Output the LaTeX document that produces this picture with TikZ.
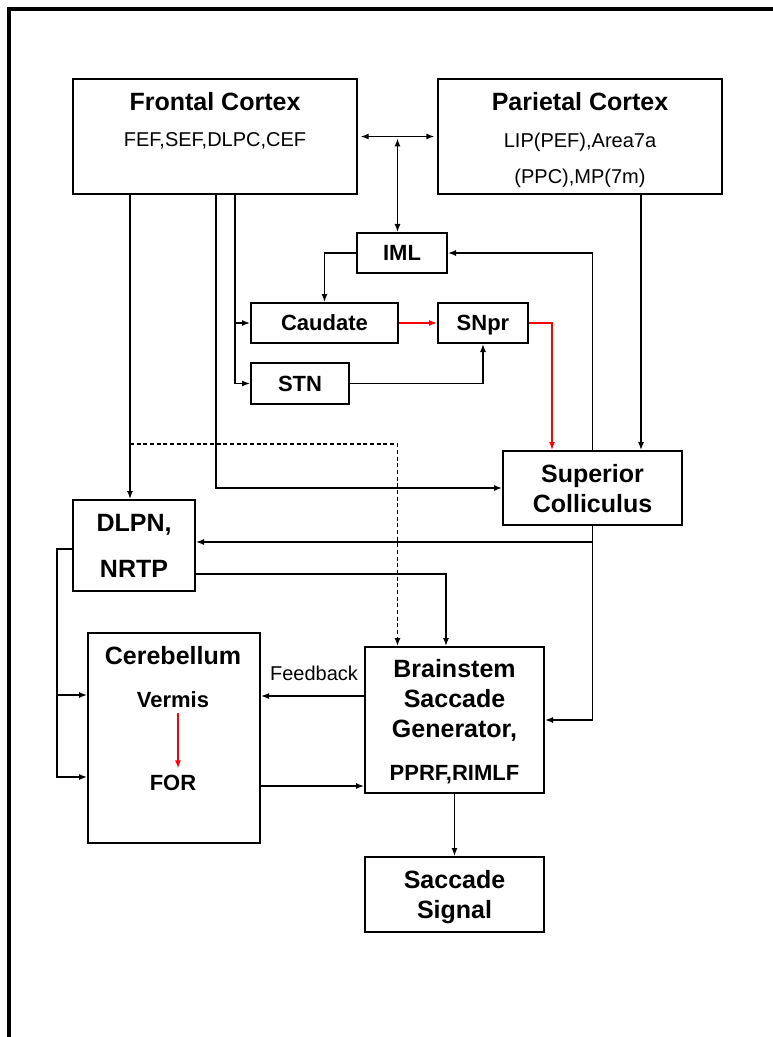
\documentclass[tikz,border=0pt]{standalone}
\usepackage{fontspec}
\setmainfont{Liberation Sans}
\usetikzlibrary{calc,arrows.meta}

\newcommand{\bigname}{\fontsize{18.75}{22.5}\selectfont\bfseries}
\newcommand{\smallname}{\fontsize{16.5}{20}\selectfont\bfseries}
\newcommand{\areatext}{\fontsize{15}{18}\selectfont}

\begin{document}
\begin{tikzpicture}[%
    x=0.75pt, y=-0.75pt,
    >={Latex[length=6pt,width=4.5pt]},
    box/.style={draw, line width=1.5pt, inner sep=0pt, align=center,
                text depth=0pt, font=\bigname},
    minor/.style={font=\smallname},
    txt/.style={inner sep=0pt, anchor=base},
    hv/.style={to path={-| (\tikztotarget)}},
    vh/.style={to path={|- (\tikztotarget)}},
    link/.style={line width=1pt}
  ]
    \useasboundingbox (0,0) rectangle (772,1037);
    \draw[line width=2.6pt] (9,1045) |- (780,9);

    % cortex
    \node[box, minimum width=213pt, minimum height=86.25pt] (frontal) at (215,136.5) {};
    \node[txt, font=\bigname]  (frontal-t) at (215,111) {Frontal Cortex};
    \node[txt, font=\areatext] (frontal-a) at (215,147) {FEF,SEF,DLPC,CEF};
    \node[box, minimum width=213pt, minimum height=86.25pt] (parietal) at (580,136.5) {};
    \node[txt, font=\bigname]  (parietal-t) at (580,111) {Parietal Cortex};
    \node[txt, font=\areatext] (parietal-a) at (580,148) {LIP(PEF),Area7a};
    \node[txt, font=\areatext] (parietal-b) at (580,184) {(PPC),MP(7m)};

    % basal ganglia
    \node[box, minor, minimum width=67.5pt,  minimum height=30pt]    (iml)     at (402,253)   {IML};
    \node[box, minor, minimum width=110.25pt, minimum height=30pt]   (caudate) at (324.5,323) {Caudate};
    \node[box, minor, minimum width=67.5pt,  minimum height=30pt]    (snpr)    at (483,323)   {SNpr};
    \node[box, minor, minimum width=73.5pt,  minimum height=30.75pt] (stn)     at (300,383.5) {STN};

    \node[box, minimum width=134.25pt, minimum height=55.5pt]  (sc)   at (592.5,488) {Superior\\Colliculus};
    \node[box, minimum width=91.5pt,   minimum height=68.25pt] (dlpn) at (134,545.5) {DLPN,\\[12pt]NRTP};

    % cerebellum and brainstem
    \node[box, minimum width=129pt, minimum height=157.5pt] (cereb) at (174,738) {};
    \node[txt, font=\bigname]   (cereb-t) at (173,664) {Cerebellum};
    \node[txt, font=\smallname] (vermis)  at (173,707) {Vermis};
    \node[txt, font=\smallname] (for)     at (173,790) {FOR};
    \node[box, minimum width=134.25pt, minimum height=109.5pt] (bsg) at (454.5,720)
      {Brainstem\\Saccade\\Generator,\\[9.7pt]{\smallname PPRF,RIMLF}};
    \node[box, minimum width=134.25pt, minimum height=56.25pt] (signal) at (454.5,894.5) {Saccade\\Signal};
    \node[txt, font=\areatext] (fb) at (314,680) {Feedback};

    \coordinate (fp) at ($(frontal.east)!0.5!(parietal.west)$);
    \coordinate (dl) at (130,444);
    \coordinate (dlbus) at (57,549);

    \path[link,->]
          (frontal.east)            edge[<->, shorten <=2pt, shorten >=2pt] (parietal.west)
          (fp)                      edge[<->, shorten <=1.5pt] (fp |- iml.north)
          (frontal.south -| 130,0)  edge           (dlpn.north -| 130,0)
          (frontal.south -| 216,0)  edge[vh]       (sc.west)
          (frontal.south -| 235,0)  edge[vh]       (stn.west)
          (caudate.west -| 235,0)   edge           (caudate.west)
          (iml.west)                edge[hv]       (caudate.north)
          (caudate.east)            edge[red]      (snpr.west)
          (stn.east)                edge[hv]       (snpr.south)
          (snpr.east)               edge[hv,red]   (sc.north -| 552,0)
          (parietal.south -| 641,0) edge           (sc.north -| 641,0)
          (sc.north)                edge[vh]       (iml.east)
          (sc.south)                edge[vh]       (dlpn.east |- 0,542)
          (sc.south)                edge[vh]       (bsg.east)
          (dl)                      edge[hv,dashed,dash pattern=on 3pt off 2pt] (fp |- bsg.north)
          (dlpn.east |- 0,574)      edge[hv]       (bsg.north -| 446,0)
          (bsg.west |- 0,696)       edge           (cereb.east |- 0,696)
          (cereb.east |- 0,786)     edge           (bsg.west |- 0,786)
          (bsg.south)               edge           (signal.north)
          ([xshift=3.75pt]vermis.south) edge[red, shorten <=4.5pt, shorten >=4.5pt] ([xshift=3.75pt]for.north);

    \draw[link,->] (dlpn.west |- dlbus) -- (dlbus) |- (cereb.west |- 0,777);
    \draw[link,->] (dlbus |- 0,695) -- (cereb.west |- 0,695);
\end{tikzpicture}
\end{document}
